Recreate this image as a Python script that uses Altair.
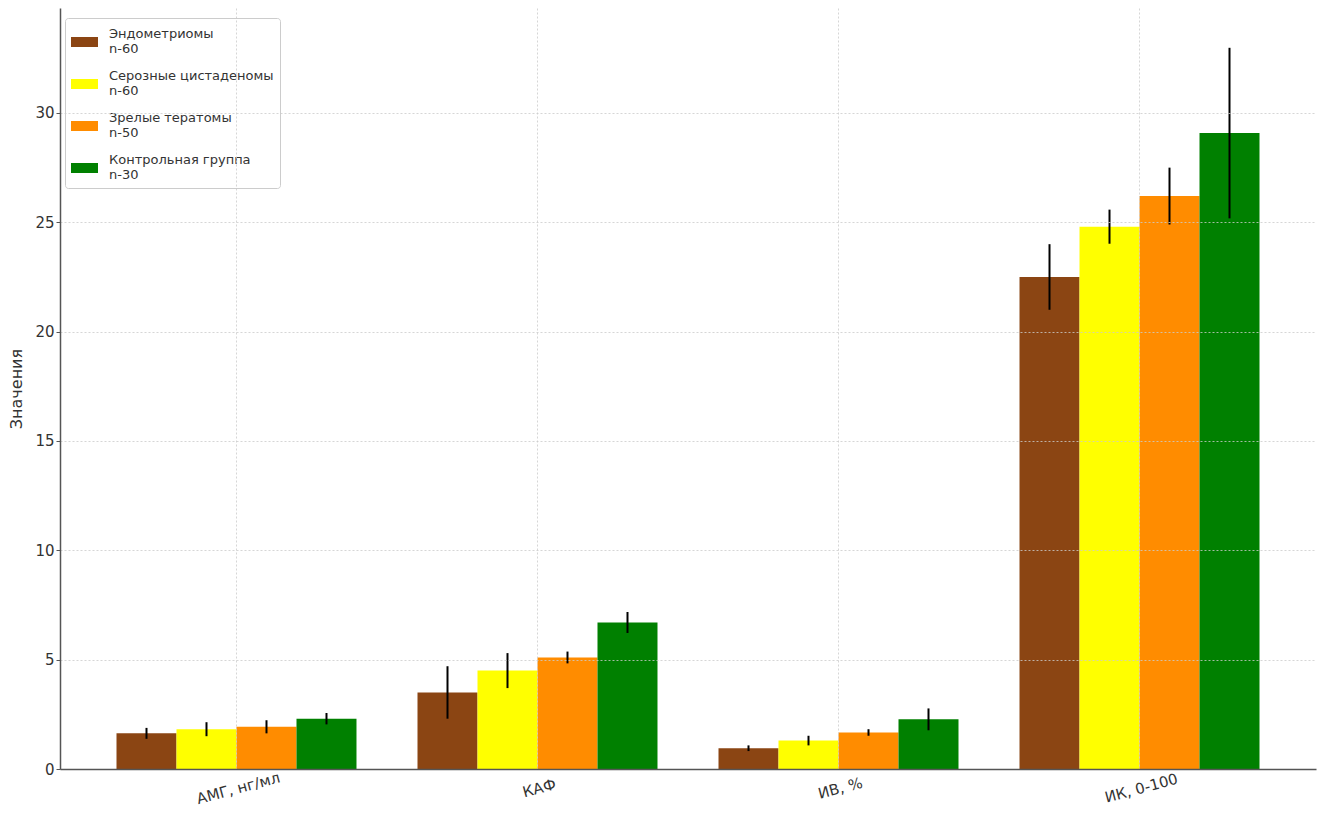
import altair as alt
import pandas as pd

categories = ["АМГ, нг/мл", "КАФ", "ИВ, %", "ИК, 0-100"]
groups = ["Эндометриомы|n-60", "Серозные цистаденомы|n-60", "Зрелые тератомы|n-50", "Контрольная группа|n-30"]
colors = ["#8B4513", "#FFFF00", "#FF8C00", "#008000"]

endo_vals = [1.63, 3.5, 0.95, 22.5]
endo_err = [0.25, 1.2, 0.13, 1.5]
sero_vals = [1.82, 4.5, 1.3, 24.8]
sero_err = [0.32, 0.8, 0.22, 0.78]
tera_vals = [1.93, 5.1, 1.67, 26.2]
tera_err = [0.3, 0.27, 0.15, 1.3]
ctrl_vals = [2.3, 6.7, 2.27, 29.08]
ctrl_err = [0.26, 0.48, 0.5, 3.9]

vals = [endo_vals, sero_vals, tera_vals, ctrl_vals]
errs = [endo_err, sero_err, tera_err, ctrl_err]

rows = []
for g, v, e in zip(groups, vals, errs):
    for c, vv, ee in zip(categories, v, e):
        rows.append({"category": c, "group": g, "value": vv, "lo": vv - ee, "hi": vv + ee})
df = pd.DataFrame(rows)

FONT = "DejaVu Sans"

x_enc = alt.X(
    "category:N", sort=categories, title=None,
    scale=alt.Scale(paddingInner=0.2027, paddingOuter=0.1877),
    axis=alt.Axis(labelAngle=345, labelAlign="center", labelBaseline="top",
                  labelFontSize=15, labelColor="#333", labelPadding=12,
                  grid=True, gridColor="#cccccc", gridDash=[2, 2], gridOpacity=0.8,
                  domainColor="#555", domainWidth=1.5, ticks=False, zindex=1),
)
xoff = alt.XOffset("group:N", sort=groups, scale=alt.Scale(paddingInner=0, paddingOuter=0))
y_scale = alt.Scale(domain=[0, 34.8], nice=False, zero=True)

bars = alt.Chart(df).mark_bar().encode(
    x=x_enc,
    xOffset=xoff,
    y=alt.Y("value:Q", scale=y_scale, title="Значения",
            axis=alt.Axis(values=[0, 5, 10, 15, 20, 25, 30], labelFontSize=15, labelColor="#333",
                          titleFontSize=16, titleFontWeight="normal", titleColor="#333", titlePadding=10,
                          grid=True, gridColor="#cccccc", gridDash=[2, 2], gridOpacity=0.8,
                          domainColor="#555", domainWidth=1.5, tickColor="#555", tickSize=4, zindex=1)),
    color=alt.Color("group:N", sort=groups, scale=alt.Scale(domain=groups, range=colors),
                    legend=alt.Legend(title=None, orient="none", legendX=5, legendY=10,
                                      labelExpr="split(datum.label, '|')",
                                      labelFontSize=13, labelColor="#333", labelLimit=300,
                                      symbolType="M-1,0.3H1.7V1.3H-1Z", symbolSize=400,
                                      symbolStrokeWidth=0, rowPadding=10,
                                      padding=6, fillColor="white", strokeColor="#cccccc",
                                      cornerRadius=3, labelOffset=18)),
)

errbars = alt.Chart(df).mark_rule(color="black", strokeWidth=2).encode(
    x=alt.X("category:N", sort=categories),
    xOffset=xoff,
    y=alt.Y("lo:Q", scale=y_scale),
    y2="hi:Q",
)

chart = alt.layer(bars, errbars).properties(
    width=1256, height=761,
    autosize=alt.AutoSizeParams(type="none"),
    padding={"left": 60, "top": 8, "right": 8, "bottom": 49},
).configure(font=FONT).configure_view(stroke=None)

chart.save("out.html", embed_options={"renderer": "svg", "actions": False})
